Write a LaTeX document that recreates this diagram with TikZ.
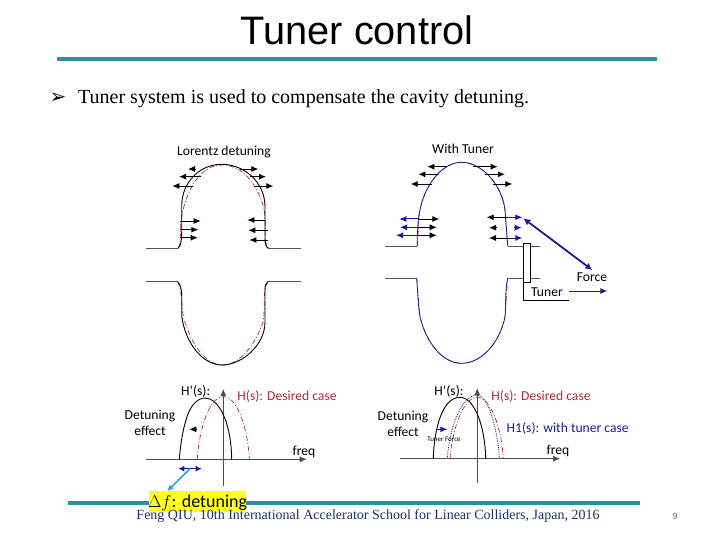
\documentclass[tikz,border=0pt]{standalone}
\usepackage{fontspec}
\setmainfont{Liberation Serif}
\newfontfamily\titlefont{Liberation Sans}
\newfontfamily\labelfont{Carlito}
\newfontfamily\symbfont{DejaVu Sans}
\usetikzlibrary{arrows.meta}
\definecolor{Rule}{HTML}{2F8F9D}
\definecolor{Footer}{HTML}{1F2F6F}
\definecolor{PageNo}{HTML}{707070}
\definecolor{Desired}{HTML}{B0283C}
\definecolor{Tuned}{HTML}{1A1A9C}
\definecolor{Wall}{HTML}{555555}
\definecolor{Pointer}{HTML}{2FA3D6}
\definecolor{Marker}{HTML}{FFFF1E}
\tikzset{
  titlerule/.style={line width=3.6pt, draw=Rule},
  wall/.style={line width=0.9pt, draw=black},
  pipe/.style={line width=1pt, draw=Wall},
  desired/.style={line width=0.7pt, draw=Desired, dash pattern=on 5pt off 2pt on 1pt off 2pt},
  tuned/.style={line width=0.8pt, draw=Tuned},
  force/.style={-{Latex[length=7pt,width=6pt]}, line width=0.9pt, draw=black},
  tunerforce/.style={-{Latex[length=7pt,width=6pt]}, line width=1pt, draw=Tuned},
  axis/.style={-{Latex[length=7pt,width=6pt]}, line width=0.7pt, draw=black!70},
  lbl/.style={font=\labelfont\fontsize{13.6}{15}\selectfont, inner sep=0pt, align=center}
}
\begin{document}
\begin{tikzpicture}[x=1pt,y=-1pt]
  \useasboundingbox (0,0) rectangle (720,540);
  % header
  \node[font=\titlefont\fontsize{39.7}{42}\selectfont, inner sep=0pt] (title) at (357,30.5) {Tuner control};
  \coordinate (ruleL) at (57,59);
  \coordinate (ruleR) at (657,59);
  \draw[titlerule] (ruleL)--(ruleR);
  \node[font=\symbfont\fontsize{20}{22}\selectfont, inner sep=0pt] (bullet) at (58,98.5) {➢};
  \node[font=\fontsize{20}{24}\selectfont, inner sep=0pt, anchor=west] (intro) at (78,99) {Tuner system is used to compensate the cavity detuning.};
  % left cavity
  \node[lbl] (lorentz) at (224,152) {Lorentz detuning};
  \draw[pipe] (146,248.3)--(178,248.3);
  \draw[pipe] (268.3,248.3)--(301,248.3);
  \draw[pipe] (146,281.7)--(177.7,281.7);
  \draw[pipe] (268,281.7)--(301,281.7);
  \draw[desired] (178,248.3) .. controls (183,240) and (177,225) .. (186,200) .. controls (195,175) and (208,165) .. (222,165) .. controls (240,165) and (255,180) .. (263,205) .. controls (268,222) and (262,240) .. (268.3,248.3);
  \draw[desired] (177.7,281.7) .. controls (184,295) and (180,312) .. (186,325) .. controls (195,352) and (210,365) .. (222,365) .. controls (240,365) and (255,345) .. (263,322) .. controls (266,305) and (262,290) .. (268,281.7);
  \draw[wall] (178,248.3) .. controls (181,246) and (181.7,240) .. (181.7,232) -- (181.7,206) .. controls (181.7,182) and (200,164.3) .. (221.7,164.3) .. controls (244,164.3) and (265,182) .. (265,206.7) -- (265,238) .. controls (265,244) and (266,247) .. (268.3,248.3);
  \draw[wall] (177.7,281.7) .. controls (180,284) and (181.7,288) .. (181.7,296) -- (181.7,316) .. controls (185,342) and (202,365) .. (222,365) .. controls (242,365) and (265,345) .. (265,322) -- (265,290) .. controls (265,285) and (266,283) .. (268,281.7);
  \foreach \xa/\xb/\ya in {195/188/169, 200.7/179/176.7, 193/172.3/186,
      240/258.3/169, 250/266/176.7, 255/273.3/186,
      180/200.7/221, 180/198.3/229.7, 180/197.7/237.7,
      265/247.3/220, 267.7/248.3/230.3, 268.3/249.3/240}
    \draw[force] (\xa,\ya)--(\xb,\ya);
  % right cavity
  \node[lbl] (withtuner) at (463,149) {With Tuner};
  \draw[pipe] (385,246)--(417.3,246);
  \draw[pipe] (507.7,246)--(540,246);
  \draw[pipe] (385,278.3)--(416.7,278.3);
  \draw[pipe] (507.7,278.3)--(540,278.3);
  \draw[desired] (417.3,246) -- (419.3,213.3) .. controls (424,185) and (442,162.3) .. (461.7,162.3) .. controls (482,162.3) and (502,185) .. (505,210) -- (507.7,246);
  \draw[desired] (416.7,278.3) -- (420,316.7) .. controls (426,342) and (442,363.3) .. (461.7,363.3) .. controls (482,363.3) and (500,342) .. (505,316.7) -- (507.7,278.3);
  \draw[tuned] (417.3,246) -- (417.3,235) .. controls (418,225) and (418,220) .. (419.3,213.3) .. controls (424,185) and (442,162.3) .. (461.7,162.3) .. controls (482,162.3) and (502,185) .. (505,210) -- (507.7,246);
  \draw[tuned] (416.7,278.3) .. controls (418,295) and (418,305) .. (420,316.7) .. controls (426,342) and (442,363.3) .. (461.7,363.3) .. controls (482,363.3) and (500,342) .. (505,316.7) .. controls (506,305) and (505,290) .. (507.7,278.3);
  \foreach \xa/\xb/\ya in {446.7/427.3/166.7, 473.3/497.7/166.7,
      438.3/418.3/174.3, 485/505/174.3, 431.7/410.7/184, 493.3/512.3/184,
      418.3/439.3/219, 417.3/436.7/227.3, 417.3/436.7/235.3,
      506.7/486.7/217.3, 496/489/227.7, 506.7/489/238}
    \draw[force] (\xa,\ya)--(\xb,\ya);
  \foreach \xa/\xb/\ya in {418.3/399.3/219, 417.3/400/227.3, 417.3/396/235.3,
      506.7/522.3/217.3, 514/521.7/227.7, 506.7/522.3/238}
    \draw[tunerforce] (\xa,\ya)--(\xb,\ya);
  % tuner and force
  \node[draw=black, fill=white, line width=0.6pt, minimum width=7.4pt, minimum height=39pt, inner sep=0pt] (tunerbar) at (527,262.8) {};
  \coordinate (tunerbend) at (tunerbar.south west |- 0,300);
  \coordinate (tunerend) at (569,300);
  \draw[line width=0.7pt] (tunerbar.south west)--(tunerbend)--(tunerend);
  \node[lbl] (tuner) at (547,292) {Tuner};
  \node[lbl] (forcetxt) at (592,277) {Force};
  \coordinate (forcefrom) at (569,291);
  \coordinate (forceto) at (607.3,291);
  \draw[tunerforce] (forcefrom)--(forceto);
  \coordinate (forcetip) at (523.3,218.3);
  \coordinate (forcefoot) at (592.3,270);
  \draw[{Latex[length=7pt,width=7pt]}-{Latex[length=7pt,width=7pt]}, line width=1.8pt, draw=Tuned] (forcetip)--(forcefoot);
  % left plot
  \coordinate (lorig) at (146,459.3);
  \coordinate (lfreq) at (306.7,459.3);
  \coordinate (lbot) at (223.3,486);
  \coordinate (ltop) at (223.3,389);
  \draw[axis] (lorig)--(lfreq);
  \draw[axis] (lbot)--(ltop);
  \draw[wall] (179.3,459.3) .. controls (181,440) and (183,430) .. (186,420) .. controls (190,405) and (198,398) .. (205,398) .. controls (218,398) and (231,420) .. (231.7,459.3);
  \draw[desired] (197.3,459.3) .. controls (199,430) and (209,396.7) .. (223.3,396.7) .. controls (238,396.7) and (248,430) .. (249.3,459.3);
  \node[lbl] (hprimeL) at (195.7,391) {H’(s):};
  \node[lbl, text=Desired] (desiredL) at (287,396.7) {H(s): Desired case};
  \node[lbl] (effectL) at (150,423.3) {Detuning\\[1pt]effect};
  \node[lbl] (freqL) at (304,452) {freq};
  \coordinate (shiftL) at (196,429.3);
  \coordinate (shiftLend) at (189.3,429.3);
  \draw[force] (shiftL)--(shiftLend);
  \coordinate (dfa) at (178.3,468.7);
  \coordinate (dfb) at (201.7,468.7);
  \draw[{Latex[length=6pt,width=6pt]}-{Latex[length=6pt,width=6pt]}, line width=1.1pt, draw=Tuned] (dfa)--(dfb);
  % right plot
  \coordinate (rorig) at (400,458.7);
  \coordinate (rfreq) at (560,458.7);
  \coordinate (rbot) at (477.3,483.3);
  \coordinate (rtop) at (477.3,388.3);
  \draw[axis] (rorig)--(rfreq);
  \draw[axis] (rbot)--(rtop);
  \draw[wall] (433.3,458.7) .. controls (434,430) and (442,397.3) .. (460,397.3) .. controls (474,397.3) and (485,425) .. (485.7,458.7);
  \draw[desired] (450,458.7) .. controls (452,430) and (463,397.3) .. (477.3,397.3) .. controls (491,397.3) and (502,430) .. (503.3,458.7);
  \draw[tuned, densely dotted] (447.3,458.7) .. controls (449,430) and (461,395) .. (477.3,395) .. controls (488,395) and (498,430) .. (499.3,458.7);
  \node[lbl] (hprimeR) at (449,391) {H’(s):};
  \node[lbl, text=Desired] (desiredR) at (541,396) {H(s): Desired case};
  \node[lbl, text=Tuned] (tunedR) at (567.7,428.3) {H1(s): with tuner case};
  \node[lbl] (effectR) at (403,423.5) {Detuning\\[1pt]effect};
  \node[lbl] (freqR) at (558,451) {freq};
  \node[lbl, font=\labelfont\fontsize{7}{8}\selectfont] (tunerforce) at (444,439.7) {Tuner Force};
  \coordinate (shiftR) at (436.7,429.3);
  \coordinate (shiftRend) at (447.3,429.3);
  \draw[tunerforce] (shiftR)--(shiftRend);
  % footer
  \coordinate (footL) at (68,503);
  \coordinate (footR) at (640,503);
  \draw[titlerule] (footL)--(footR);
  \node[fill=Marker, inner sep=0pt, minimum width=96.7pt, minimum height=20.7pt] (detuning) at (197.6,501.4) {};
  \node[font=\labelfont\fontsize{18}{20}\selectfont, inner sep=0pt] (dftext) at (197.6,502.5) {$\Delta f$: detuning};
  \coordinate (dfmid) at (190,468.7);
  \coordinate (dfend) at (167.3,491);
  \draw[-{Latex[length=6pt,width=6pt]}, line width=1.6pt, draw=Pointer] (dfmid)--(dfend);
  \node[font=\fontsize{14}{16}\selectfont, text=Footer, inner sep=0pt] (credit) at (368,516) {Feng QIU, 10th International Accelerator School for Linear Colliders, Japan, 2016};
  \node[font=\titlefont\fontsize{9}{10}\selectfont, text=PageNo, inner sep=0pt] (pageno) at (675,516) {9};
\end{tikzpicture}
\end{document}
